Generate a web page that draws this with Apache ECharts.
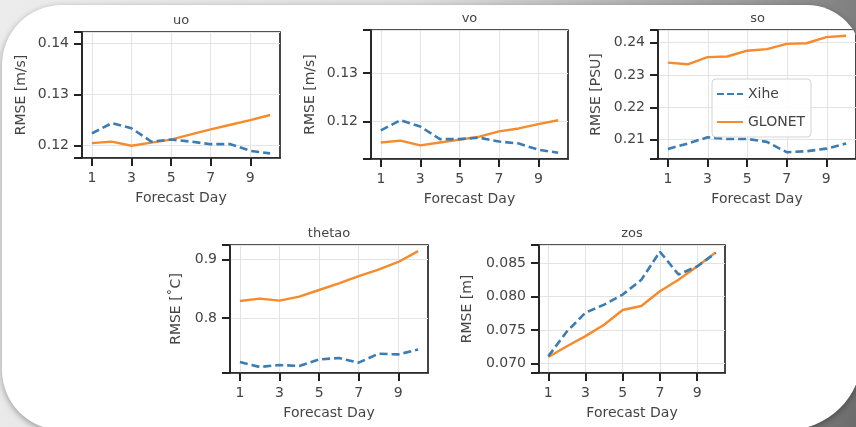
<!DOCTYPE html>
<html>
<head>
<meta charset="utf-8">
<script src="https://cdn.jsdelivr.net/npm/echarts@6/dist/echarts.min.js"></script>
<style>
html, body { margin: 0; padding: 0; overflow: hidden; }
body {
  width: 856px; height: 427px; position: relative;
  background: linear-gradient(100deg, #ececec 0%, #dedede 45%, #9c9c9c 80%, #6c6c6c 100%);
}
#card {
  position: absolute; left: 2px; top: 5px; width: 860px; height: 425px;
  background: #fff; overflow: hidden;
  border-radius: 60px 55px 75px 60px;
  box-shadow: 0 2px 6px rgba(0, 0, 0, 0.35);
}
#main { position: absolute; left: -2px; top: -5px; width: 856px; height: 427px; }
</style>
</head>
<body>
<div id="card"><div id="main"></div></div>
<script>
// forecast days and tick labels
const days = ['1', '2', '3', '4', '5', '6', '7', '8', '9', '10'];
const dayTicks = ['1', '3', '5', '7', '9'];

// RMSE per variable
const uoXihe   = [0.1224, 0.1244, 0.1234, 0.1208, 0.1212, 0.1208, 0.1203, 0.1203, 0.1190, 0.1185];
const uoGlonet = [0.1205, 0.1208, 0.1200, 0.1206, 0.1212, 0.1222, 0.1232, 0.1241, 0.1250, 0.1260];
const uoTicks  = [0.12, 0.13, 0.14];

const voXihe   = [0.1182, 0.1203, 0.1190, 0.1164, 0.1164, 0.1167, 0.1159, 0.1155, 0.1142, 0.1136];
const voGlonet = [0.1157, 0.1161, 0.1151, 0.1157, 0.1163, 0.1169, 0.1180, 0.1186, 0.1195, 0.1203];
const voTicks  = [0.12, 0.13];

const soXihe   = [0.2071, 0.2088, 0.2107, 0.2102, 0.2102, 0.2093, 0.2061, 0.2064, 0.2072, 0.2088];
const soGlonet = [0.2338, 0.2333, 0.2355, 0.2357, 0.2375, 0.2380, 0.2396, 0.2398, 0.2417, 0.2421];
const soTicks  = [0.21, 0.22, 0.23, 0.24];

const thetaoXihe   = [0.7248, 0.7163, 0.7197, 0.7180, 0.7293, 0.7316, 0.7237, 0.7390, 0.7378, 0.7463];
const thetaoGlonet = [0.8293, 0.8332, 0.8298, 0.8366, 0.8480, 0.8593, 0.8717, 0.8830, 0.8960, 0.9146];
const thetaoTicks  = [0.8, 0.9];

const zosXihe   = [0.0711, 0.0748, 0.0776, 0.0788, 0.0803, 0.0825, 0.0867, 0.0833, 0.0845, 0.0865];
const zosGlonet = [0.0710, 0.0726, 0.0741, 0.0758, 0.0780, 0.0786, 0.0808, 0.0825, 0.0845, 0.0866];
const zosTicks  = [0.070, 0.075, 0.080, 0.085];

const panels = [
  { title: 'uo', unit: 'RMSE [m/s]', xihe: uoXihe, glonet: uoGlonet, ticks: uoTicks, digits: 2,
    ymin: 0.1176, ymax: 0.1422, box: [82, 32, 198, 126], nameGap: 54 },
  { title: 'vo', unit: 'RMSE [m/s]', xihe: voXihe, glonet: voGlonet, ticks: voTicks, digits: 2,
    ymin: 0.1123, ymax: 0.1389, box: [371, 30, 197, 129], nameGap: 54 },
  { title: 'so', unit: 'RMSE [PSU]', xihe: soXihe, glonet: soGlonet, ticks: soTicks, digits: 2,
    ymin: 0.2040, ymax: 0.2439, box: [658, 30, 199, 129], nameGap: 55 },
  { title: 'thetao', unit: 'RMSE [˚C]', xihe: thetaoXihe, glonet: thetaoGlonet, ticks: thetaoTicks, digits: 1,
    ymin: 0.706, ymax: 0.925, box: [230, 245, 198, 128], nameGap: 47 },
  { title: 'zos', unit: 'RMSE [m]', xihe: zosXihe, glonet: zosGlonet, ticks: zosTicks, digits: 3,
    ymin: 0.0686, ymax: 0.0877, box: [539, 245, 186, 128], nameGap: 65 }
];

const textColor = '#444';
const gridColor = '#e3e3e3';
const blue = '#3b7cb2';
const orange = '#f58b2c';
const font = 'DejaVu Sans';
const dashIcon = 'path://M0,0h7v2h-7z M10,0h7v2h-7z M20,0h6v2h-6z';
const solidIcon = 'path://M0,0h26v2h-26z';

const option = {
  animation: false,
  title: [], grid: [], xAxis: [], yAxis: [], series: [],
  legend: {
    data: [{ name: 'Xihe', icon: dashIcon }, { name: 'GLONET', icon: solidIcon }],
    orient: 'vertical',
    left: 712, top: 79,
    padding: [7, 6, 7, 5],
    itemWidth: 26, itemHeight: 3, itemGap: 12,
    borderColor: '#d4d4d4', borderWidth: 1, borderRadius: 4,
    backgroundColor: 'rgba(255,255,255,0.85)',
    textStyle: { color: textColor, fontSize: 14, fontFamily: font, lineHeight: 16 }
  }
};

// add a grid with one x and one y axis, return its index
function addGrid(grid, xAxis, yAxis) {
  const gi = option.grid.length;
  option.grid.push(grid);
  xAxis.gridIndex = gi; yAxis.gridIndex = gi;
  option.xAxis.push(xAxis); option.yAxis.push(yAxis);
  return gi;
}

panels.forEach(function (p) {
  const b = p.box;
  const band = b[2] / days.length;
  const ySpan = p.ymax - p.ymin;

  option.title.push({
    text: p.title,
    left: b[0] + b[2] / 2, top: b[1] - 18,
    textAlign: 'center', padding: 0,
    textStyle: { color: textColor, fontSize: 13, fontWeight: 'normal', fontFamily: font }
  });

  // vertical grid lines on the odd days
  addGrid(
    { left: b[0] + band / 2, top: b[1], width: band * (days.length - 2), height: b[3], show: false },
    { type: 'category', data: dayTicks, boundaryGap: false,
      axisLine: { show: false }, axisTick: { show: false }, axisLabel: { show: false },
      splitLine: { show: true, interval: 0, lineStyle: { color: gridColor, width: 1 } } },
    { type: 'value', min: 0, max: 1, show: false }
  );

  // the data panel itself
  const gi = addGrid(
    { left: b[0], top: b[1], width: b[2], height: b[3],
      show: true, borderColor: '#1a1a1a', borderWidth: 1.6, backgroundColor: 'transparent' },
    { type: 'category', data: days, boundaryGap: true,
      name: 'Forecast Day', nameLocation: 'middle', nameGap: 33,
      nameTextStyle: { color: textColor, fontSize: 14, fontFamily: font },
      axisLine: { show: true, onZero: false, lineStyle: { color: '#222', width: 1.6 } },
      axisTick: { show: true, inside: false, alignWithLabel: true, interval: 1, length: 8,
        lineStyle: { color: '#222', width: 2 } },
      axisLabel: { show: true, interval: 1, color: textColor, fontSize: 14, margin: 13, fontFamily: font },
      splitLine: { show: false } },
    { type: 'value', min: p.ymin, max: p.ymax,
      splitNumber: Math.round(ySpan / (p.ticks[1] - p.ticks[0])),
      name: p.unit, nameLocation: 'middle', nameGap: p.nameGap, nameRotate: 90,
      nameTextStyle: { color: textColor, fontSize: 14, fontFamily: font },
      axisLine: { show: true, onZero: false, lineStyle: { color: '#222', width: 1.6 } },
      axisTick: { show: true, inside: false, length: 8, lineStyle: { color: '#222', width: 2 } },
      axisLabel: { color: textColor, fontSize: 14, margin: 13, fontFamily: font, customValues: p.ticks,
        formatter: function (v) { return v.toFixed(p.digits); } },
      splitLine: { show: true, lineStyle: { color: gridColor, width: 1 } } }
  );

  option.series.push({
    name: 'Xihe', type: 'line', xAxisIndex: gi, yAxisIndex: gi,
    data: p.xihe,
    symbol: 'none', z: 3,
    lineStyle: { color: blue, width: 2.6, type: [8, 4] },
    itemStyle: { color: blue }
  });
  option.series.push({
    name: 'GLONET', type: 'line', xAxisIndex: gi, yAxisIndex: gi,
    data: p.glonet,
    symbol: 'none', z: 2,
    lineStyle: { color: orange, width: 2.4 },
    itemStyle: { color: orange }
  });
});

var myChart = echarts.init(document.getElementById('main'));
myChart.setOption(option);
</script>
</body>
</html>
